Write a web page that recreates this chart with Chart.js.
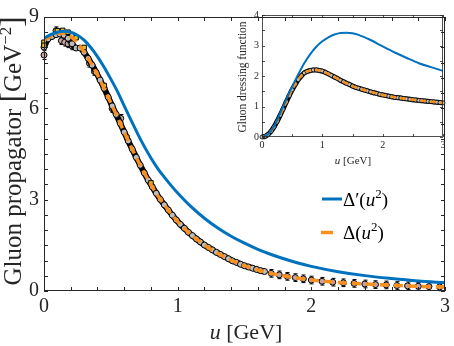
<!DOCTYPE html>
<html>
<head>
<meta charset="utf-8">
<script src="https://cdn.jsdelivr.net/npm/chart.js@4/dist/chart.umd.min.js"></script>
<style>
html, body { margin: 0; padding: 0; background: #fff; }
#wrap { position: relative; width: 454px; height: 346px; }
#main { position: absolute; left: 0; top: 0; }
#insetBox { position: absolute; left: 228px; top: 6px; width: 224px; height: 166px; }
</style>
</head>
<body>
<div id="wrap">
  <canvas id="main" width="454" height="346"></canvas>
  <div id="insetBox"><canvas id="inset" width="224" height="166"></canvas></div>
</div>
<script>
/* ---------- main plot: gluon propagator ---------- */
const uFit = [0, 0.05, 0.1, 0.15, 0.2, 0.25, 0.3, 0.35, 0.4, 0.45, 0.5, 0.55, 0.6, 0.65, 0.7, 0.75,
              0.8, 0.85, 0.9, 0.95, 1.0, 1.1, 1.2, 1.3, 1.4, 1.5, 1.6, 1.7, 1.8, 1.9, 2.0, 2.2, 2.4, 2.6, 2.8, 3.0];
const deltaPrime = [8.30, 8.42, 8.50, 8.53, 8.50, 8.40, 8.24, 8.00, 7.70, 7.35, 6.96, 6.55, 6.08, 5.62, 5.17, 4.75,
                    4.37, 4.03, 3.74, 3.47, 3.22, 2.77, 2.39, 2.07, 1.80, 1.57, 1.37, 1.20, 1.05, 0.92, 0.81, 0.635, 0.505, 0.41, 0.33, 0.27];
const deltaFit = [8.25, 8.36, 8.46, 8.47, 8.36, 8.15, 7.85, 7.50, 7.10, 6.65, 6.18, 5.70, 5.22, 4.75, 4.30, 3.88,
                  3.49, 3.14, 2.83, 2.54, 2.28, 1.85, 1.51, 1.24, 1.01, 0.83, 0.69, 0.58, 0.49, 0.42, 0.36, 0.28, 0.23, 0.19, 0.155, 0.13];

// lattice points (grey circles)
const greyU = [0.00, 0.03, 0.06, 0.09, 0.12, 0.15, 0.18, 0.21, 0.24, 0.27, 0.30, 0.33, 0.36, 0.39, 0.42, 0.45,
               0.48, 0.51, 0.54, 0.57, 0.60, 0.63, 0.66, 0.69, 0.72, 0.75, 0.78, 0.81, 0.84, 0.87, 0.90, 0.93,
               0.96, 0.99, 1.02, 1.05, 1.08, 1.11, 1.14, 1.17, 1.20, 1.23, 1.26, 1.29, 1.32, 1.35, 1.38, 1.41,
               1.44, 1.47, 1.50, 1.53, 1.56, 1.59, 1.62, 1.65];
const greyV = [8.01, 8.28, 8.36, 8.42, 8.44, 8.40, 8.30, 8.12, 7.98, 7.98, 7.84, 7.64, 7.42, 7.18, 6.93, 6.66,
               6.37, 6.08, 5.80, 5.51, 5.22, 4.93, 4.66, 4.39, 4.13, 3.88, 3.64, 3.42, 3.21, 3.01, 2.83, 2.66,
               2.49, 2.33, 2.19, 2.06, 1.93, 1.82, 1.71, 1.61, 1.51, 1.43, 1.35, 1.27, 1.20, 1.13, 1.06, 0.99,
               0.94, 0.88, 0.83, 0.79, 0.75, 0.71, 0.67, 0.64];
// lattice points (pink circles)
const pinkU = [0.00, 0.09, 0.13, 0.155, 0.18, 0.21, 0.34, 0.377, 0.51, 0.574,
               1.70, 1.76, 1.82, 1.88, 1.94, 2.00, 2.08, 2.16, 2.24, 2.32, 2.40, 2.48, 2.56, 2.64, 2.72, 2.80, 2.88, 2.96];
const pinkV = [7.75, 8.55, 8.22, 8.17, 8.12, 8.05, 7.48, 7.21, 5.99, 5.67,
               0.58, 0.53, 0.48, 0.44, 0.40, 0.36, 0.32, 0.29, 0.27, 0.25, 0.23, 0.21, 0.20, 0.18, 0.17, 0.155, 0.145, 0.135];
const pinkErr = [0.08, 0.06, 0.06, 0.06, 0.06, 0.06, 0.06, 0.06, 0.06, 0.06,
                 0.06, 0.06, 0.06, 0.06, 0.06, 0.06, 0.06, 0.06, 0.06, 0.06, 0.06, 0.06, 0.06, 0.06, 0.06, 0.06, 0.06, 0.06];
// lattice points (yellow squares)
const yellowU = [0.00, 0.00, 0.10, 0.14, 0.18, 0.24, 0.30, 0.45, 0.62, 0.80];
const yellowV = [8.17, 8.07, 8.55, 8.56, 8.50, 8.32, 8.00, 6.75, 5.05, 3.55];

/* ---------- inset: dressing function ---------- */
const uIns = [0, 0.1, 0.2, 0.3, 0.4, 0.5, 0.6, 0.7, 0.8, 0.9, 1.0, 1.1, 1.2, 1.3, 1.4, 1.5, 1.6, 1.8, 2.0, 2.2, 2.4, 2.6, 2.8, 3.0];
const dressPrime = [0, 0.09, 0.35, 0.77, 1.22, 1.65, 2.05, 2.42, 2.72, 2.96, 3.14, 3.27, 3.36, 3.41, 3.42, 3.40, 3.35,
                    3.18, 2.97, 2.77, 2.59, 2.42, 2.29, 2.17];
const dressFit = [0, 0.085, 0.33, 0.71, 1.14, 1.55, 1.88, 2.10, 2.18, 2.20, 2.16, 2.07, 1.97, 1.86, 1.76, 1.67, 1.60,
                  1.48, 1.38, 1.30, 1.25, 1.20, 1.16, 1.12];
const dotU = [0, 0.05, 0.1, 0.15, 0.2, 0.25, 0.3, 0.35, 0.4, 0.45, 0.5, 0.55, 0.6, 0.65, 0.7, 0.75, 0.8, 0.85, 0.9, 0.95,
              1.0, 1.05, 1.1, 1.15, 1.2, 1.25, 1.3, 1.35, 1.4, 1.45, 1.5, 1.55, 1.6, 1.65, 1.7, 1.75, 1.8, 1.85, 1.9, 1.95,
              2.0, 2.05, 2.1, 2.15, 2.2, 2.25, 2.3, 2.35, 2.4, 2.45, 2.5, 2.55, 2.6, 2.65, 2.7, 2.75, 2.8, 2.85, 2.9, 2.95, 3.0];
const dotV = [0, 0.02, 0.085, 0.19, 0.33, 0.51, 0.71, 0.92, 1.14, 1.35, 1.55, 1.72, 1.88, 2.00, 2.10, 2.15, 2.18, 2.20, 2.20, 2.18,
              2.16, 2.12, 2.07, 2.02, 1.97, 1.92, 1.86, 1.81, 1.76, 1.72, 1.67, 1.63, 1.60, 1.57, 1.54, 1.51, 1.48, 1.45, 1.43, 1.40,
              1.38, 1.36, 1.34, 1.32, 1.30, 1.29, 1.28, 1.26, 1.25, 1.24, 1.22, 1.21, 1.20, 1.19, 1.18, 1.17, 1.16, 1.15, 1.14, 1.13, 1.12];

const BLUE = "#0072bd";
const ORANGE = "#f7901e";
const INK = "#262626";
const SERIF = '"Liberation Serif", "DejaVu Serif", serif';

const pts = (xs, ys) => xs.map((x, i) => ({ x, y: ys[i] }));

/* draw a run of text pieces: [text, font, dy] */
function drawParts(ctx, parts, x, y, align) {
    let w = 0;
    parts.forEach(p => { ctx.font = p[1]; w += ctx.measureText(p[0]).width; });
    let cx = align === "center" ? x - w / 2 : x;
    ctx.textAlign = "left";
    ctx.textBaseline = "alphabetic";
    parts.forEach(p => {
        ctx.font = p[1];
        ctx.fillText(p[0], cx, y + (p[2] || 0));
        cx += ctx.measureText(p[0]).width;
    });
}

/* box + inward ticks on all four sides */
const frame = {
    id: "frame",
    afterDatasetsDraw(chart, args, o) {
        const { ctx, chartArea: a, scales: { x, y } } = chart;
        ctx.save();
        ctx.strokeStyle = INK;
        ctx.lineWidth = o.width || 1;
        ctx.beginPath();
        for (let v = x.min; v <= x.max + 1e-9; v += o.xStep) {
            const px = Math.round(x.getPixelForValue(v)) + 0.5;
            ctx.moveTo(px, a.bottom); ctx.lineTo(px, a.bottom - o.len);
            ctx.moveTo(px, a.top); ctx.lineTo(px, a.top + o.len);
        }
        for (let v = y.min; v <= y.max + 1e-9; v += o.yStep) {
            const py = Math.round(y.getPixelForValue(v)) + 0.5;
            ctx.moveTo(a.left, py); ctx.lineTo(a.left + o.len, py);
            ctx.moveTo(a.right, py); ctx.lineTo(a.right - o.len, py);
        }
        ctx.stroke();
        ctx.strokeRect(Math.round(a.left) + 0.5, Math.round(a.top) + 0.5,
                       Math.round(a.right - a.left) - 1, Math.round(a.bottom - a.top) - 1);
        ctx.restore();
    }
};

/* simple vertical error bars for datasets carrying an `errors` list */
const errBars = {
    id: "errBars",
    beforeDatasetsDraw(chart) {
        const { ctx, scales: { x, y } } = chart;
        ctx.save();
        ctx.strokeStyle = "#000";
        ctx.lineWidth = 1;
        chart.data.datasets.forEach(ds => {
            if (!ds.errors) return;
            ds.data.forEach((p, i) => {
                const px = Math.round(x.getPixelForValue(p.x)) + 0.5;
                const e = ds.errors[i];
                const y1 = y.getPixelForValue(p.y + e) - 2, y2 = y.getPixelForValue(p.y - e) + 2;
                ctx.beginPath();
                ctx.moveTo(px, y1); ctx.lineTo(px, y2);
                ctx.moveTo(px - 2, y1); ctx.lineTo(px + 2, y1);
                ctx.moveTo(px - 2, y2); ctx.lineTo(px + 2, y2);
                ctx.stroke();
            });
        });
        ctx.restore();
    }
};

/* axis titles and legend for the main plot */
const mainText = {
    id: "mainText",
    afterDraw(chart) {
        const { ctx } = chart;
        ctx.save();
        ctx.fillStyle = INK;
        drawParts(ctx, [["u", "italic 22px " + SERIF], [" [GeV]", "22px " + SERIF]], 246, 339, "center");
        ctx.translate(21, 151);
        ctx.rotate(-Math.PI / 2);
        drawParts(ctx, [["Gluon propagator ", "25px " + SERIF], ["[", "31px " + SERIF, 1],
                        ["GeV", "25px " + SERIF], ["\u22122", "17px " + SERIF, -10], ["]", "31px " + SERIF, 1]], 0, 0, "center");
        ctx.restore();

        ctx.save();
        ctx.lineCap = "butt";
        ctx.strokeStyle = BLUE; ctx.lineWidth = 3;
        ctx.beginPath(); ctx.moveTo(322, 199); ctx.lineTo(342, 199); ctx.stroke();
        ctx.strokeStyle = ORANGE; ctx.lineWidth = 3.5;
        ctx.beginPath(); ctx.moveTo(321, 232.5); ctx.lineTo(333, 232.5); ctx.stroke();
        ctx.fillStyle = "#000";
        drawParts(ctx, [["\u0394\u2032(", "19px " + SERIF], ["u", "italic 19px " + SERIF],
                        ["2", "13px " + SERIF, -8], [")", "19px " + SERIF]], 343, 206, "left");
        drawParts(ctx, [["\u0394(", "19px " + SERIF], ["u", "italic 19px " + SERIF],
                        ["2", "13px " + SERIF, -8], [")", "19px " + SERIF]], 343, 239, "left");
        ctx.restore();
    }
};

new Chart(document.getElementById("main"), {
    type: "scatter",
    data: {
        datasets: [
            { label: "\u0394\u2032(u\u00b2)", data: pts(uFit, deltaPrime), showLine: true, borderColor: BLUE,
              borderWidth: 3, pointRadius: 0, cubicInterpolationMode: "monotone" },
            { label: "\u0394(u\u00b2)", data: pts(uFit, deltaFit), showLine: true, borderColor: ORANGE,
              borderWidth: 3.5, borderDash: [9, 5], pointRadius: 0, cubicInterpolationMode: "monotone" },
            { label: "yellow", data: pts(yellowU, yellowV), pointStyle: "rect", pointRadius: 3.2,
              backgroundColor: "#e8c31a", borderColor: "#000", borderWidth: 1, clip: false },
            { label: "grey", data: pts(greyU, greyV), showLine: true, borderColor: "#000", borderWidth: 6,
              pointRadius: 3, pointBackgroundColor: "#bdbdbd", pointBorderColor: "#000", pointBorderWidth: 1,
              cubicInterpolationMode: "monotone", clip: false },
            { label: "pink", data: pts(pinkU, pinkV), errors: pinkErr, pointRadius: 3,
              backgroundColor: "#c7a0a0", borderColor: "#000", borderWidth: 1, clip: false }
        ]
    },
    options: {
        responsive: false,
        animation: false,
        events: [],
        layout: { padding: { top: 9, right: 4, left: 0, bottom: 0 } },
        plugins: {
            legend: { display: false },
            tooltip: { enabled: false },
            frame: { xStep: 0.2, yStep: 0.5, len: 4 }
        },
        scales: {
            x: {
                type: "linear", min: 0, max: 3,
                ticks: { stepSize: 1, color: INK, padding: 4, font: { family: SERIF, size: 20 } },
                grid: { display: false, drawTicks: false },
                border: { display: false },
                afterFit(s) { s.height = 55; }
            },
            y: {
                type: "linear", min: 0, max: 9,
                ticks: { stepSize: 3, color: INK, padding: 5, font: { family: SERIF, size: 20 } },
                grid: { display: false, drawTicks: false },
                border: { display: false },
                afterFit(s) { s.width = 44; }
            }
        }
    },
    plugins: [frame, errBars, mainText]
});

/* inset */
const insetText = {
    id: "insetText",
    afterDraw(chart) {
        const { ctx } = chart;
        ctx.save();
        ctx.fillStyle = INK;
        drawParts(ctx, [["u", "italic 11px " + SERIF], [" [GeV]", "11px " + SERIF]], 125, 158, "center");
        ctx.translate(18, 71);
        ctx.rotate(-Math.PI / 2);
        drawParts(ctx, [["Gluon dressing function", "11.5px " + SERIF]], 0, 0, "center");
        ctx.restore();
    }
};

new Chart(document.getElementById("inset"), {
    type: "scatter",
    data: {
        datasets: [
            { data: pts(uIns, dressPrime), showLine: true, borderColor: BLUE, borderWidth: 2,
              pointRadius: 0, cubicInterpolationMode: "monotone" },
            { data: pts(uIns, dressFit), showLine: true, borderColor: ORANGE, borderWidth: 2.5,
              borderDash: [6, 4], pointRadius: 0, cubicInterpolationMode: "monotone" },
            { data: pts(dotU, dotV), showLine: true, borderColor: "#000", borderWidth: 5,
              pointRadius: 2, pointBackgroundColor: "#bdbdbd", pointBorderColor: "#000", pointBorderWidth: 0.8,
              cubicInterpolationMode: "monotone", clip: false }
        ]
    },
    options: {
        responsive: false,
        animation: false,
        events: [],
        layout: { padding: { top: 8, right: 9, left: 0, bottom: 0 } },
        plugins: {
            legend: { display: false },
            tooltip: { enabled: false },
            frame: { xStep: 0.5, yStep: 0.5, len: 3, width: 0.8 }
        },
        scales: {
            x: {
                type: "linear", min: 0, max: 3,
                ticks: { stepSize: 1, color: INK, padding: 2, font: { family: SERIF, size: 10 } },
                grid: { display: false, drawTicks: false },
                border: { display: false },
                afterFit(s) { s.height = 35; }
            },
            y: {
                type: "linear", min: 0, max: 4,
                ticks: { stepSize: 1, color: INK, padding: 3, font: { family: SERIF, size: 10 } },
                grid: { display: false, drawTicks: false },
                border: { display: false },
                afterFit(s) { s.width = 34; }
            }
        }
    },
    plugins: [frame, insetText]
});
</script>
</body>
</html>
